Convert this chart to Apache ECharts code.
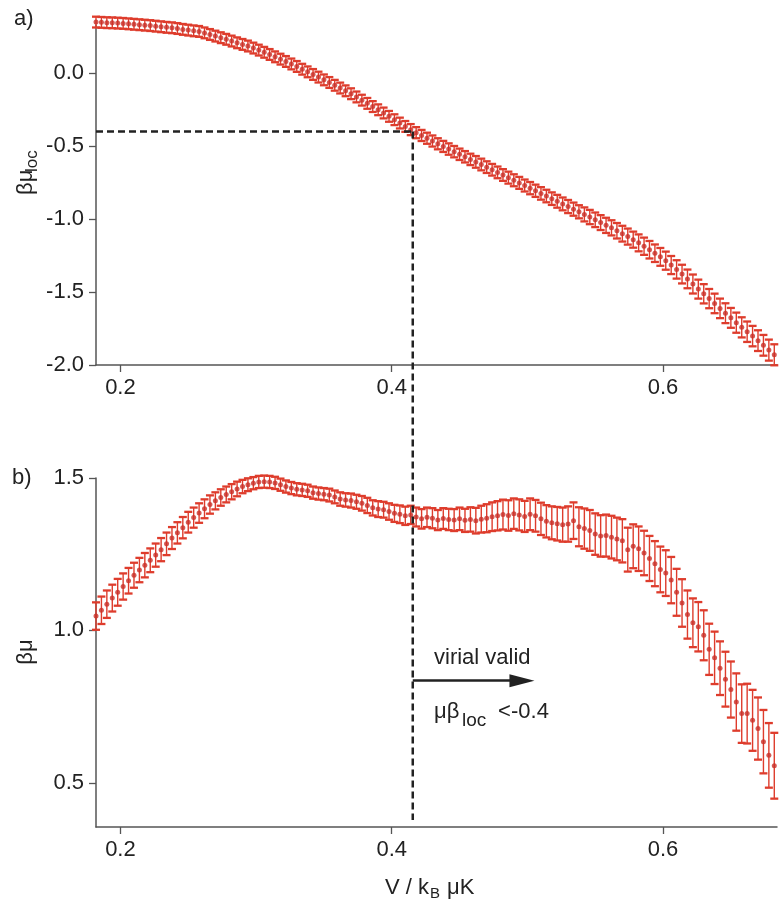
<!DOCTYPE html>
<html><head><meta charset="utf-8">
<script src="https://cdn.jsdelivr.net/npm/echarts@6/dist/echarts.min.js"></script>
<style>html,body{margin:0;padding:0;background:#fff}#c{width:782px;height:911px}</style>
</head><body><div id="c"></div><script>
// x positions (V / kB uK)
const xs = [
0.182,0.186,0.190,0.194,0.198,0.202,0.206,0.210,0.214,0.218,
0.222,0.226,0.230,0.234,0.238,0.242,0.246,0.250,0.254,0.258,
0.262,0.266,0.270,0.274,0.278,0.282,0.286,0.290,0.294,0.298,
0.302,0.306,0.310,0.314,0.318,0.322,0.326,0.330,0.334,0.338,
0.342,0.346,0.350,0.354,0.358,0.362,0.366,0.370,0.374,0.378,
0.382,0.386,0.390,0.394,0.398,0.402,0.406,0.410,0.414,0.418,
0.422,0.426,0.430,0.434,0.438,0.442,0.446,0.450,0.454,0.458,
0.462,0.466,0.470,0.474,0.478,0.482,0.486,0.490,0.494,0.498,
0.502,0.506,0.510,0.514,0.518,0.522,0.526,0.530,0.534,0.538,
0.542,0.546,0.550,0.554,0.558,0.562,0.566,0.570,0.574,0.578,
0.582,0.586,0.590,0.594,0.598,0.602,0.606,0.610,0.614,0.618,
0.622,0.626,0.630,0.634,0.638,0.642,0.646,0.650,0.654,0.658,
0.662,0.666,0.670,0.674,0.678,0.682];
// panel a) beta*mu_loc
const topY = [
0.350,0.348,0.346,0.345,0.343,0.341,0.338,0.335,0.332,0.329,
0.326,0.322,0.318,0.314,0.311,0.306,0.300,0.295,0.290,0.286,
0.276,0.265,0.254,0.243,0.232,0.220,0.208,0.197,0.186,0.172,
0.158,0.143,0.128,0.112,0.096,0.080,0.063,0.046,0.027,0.009,
-0.009,-0.027,-0.046,-0.064,-0.083,-0.102,-0.121,-0.141,-0.163,-0.185,
-0.207,-0.229,-0.251,-0.273,-0.296,-0.319,-0.342,-0.365,-0.387,-0.408,
-0.427,-0.446,-0.465,-0.484,-0.502,-0.520,-0.538,-0.556,-0.573,-0.591,
-0.608,-0.626,-0.644,-0.662,-0.680,-0.698,-0.716,-0.734,-0.752,-0.770,
-0.788,-0.806,-0.824,-0.842,-0.860,-0.878,-0.896,-0.914,-0.932,-0.950,
-0.968,-0.986,-1.005,-1.024,-1.043,-1.060,-1.080,-1.100,-1.120,-1.141,
-1.163,-1.186,-1.210,-1.234,-1.259,-1.285,-1.315,-1.345,-1.377,-1.410,
-1.445,-1.480,-1.512,-1.545,-1.578,-1.612,-1.645,-1.677,-1.710,-1.742,
-1.772,-1.802,-1.833,-1.865,-1.898,-1.930];
const topErr = [
0.037,0.037,0.037,0.037,0.037,0.037,0.037,0.037,0.037,0.037,
0.037,0.037,0.037,0.037,0.037,0.037,0.037,0.037,0.037,0.037,
0.037,0.037,0.037,0.037,0.037,0.037,0.037,0.037,0.037,0.037,
0.037,0.037,0.037,0.037,0.037,0.037,0.037,0.037,0.037,0.037,
0.037,0.037,0.037,0.037,0.037,0.037,0.037,0.037,0.037,0.037,
0.037,0.037,0.037,0.037,0.037,0.037,0.037,0.037,0.038,0.038,
0.038,0.038,0.038,0.038,0.038,0.039,0.039,0.039,0.039,0.039,
0.040,0.040,0.040,0.040,0.040,0.040,0.041,0.041,0.041,0.041,
0.042,0.042,0.043,0.043,0.043,0.044,0.044,0.045,0.045,0.045,
0.048,0.049,0.050,0.051,0.052,0.052,0.053,0.054,0.055,0.055,
0.058,0.059,0.060,0.060,0.061,0.062,0.062,0.063,0.064,0.064,
0.065,0.065,0.066,0.066,0.067,0.067,0.068,0.068,0.069,0.069,
0.070,0.070,0.071,0.071,0.072,0.072];
// panel b) beta*mu
const botY = [
1.047,1.066,1.086,1.106,1.125,1.144,1.163,1.181,1.198,1.214,
1.230,1.247,1.265,1.284,1.303,1.320,1.337,1.355,1.370,1.385,
1.399,1.413,1.425,1.436,1.446,1.455,1.464,1.472,1.478,1.483,
1.487,1.488,1.487,1.484,1.478,1.472,1.467,1.463,1.461,1.458,
1.452,1.449,1.447,1.444,1.438,1.431,1.428,1.426,1.422,1.417,
1.410,1.402,1.398,1.396,1.390,1.384,1.381,1.376,1.379,1.372,
1.366,1.371,1.368,1.362,1.367,1.364,1.362,1.366,1.361,1.364,
1.360,1.365,1.368,1.373,1.376,1.380,1.377,1.383,1.379,1.374,
1.381,1.376,1.366,1.358,1.353,1.350,1.347,1.349,1.360,1.340,
1.334,1.328,1.316,1.310,1.311,1.306,1.300,1.294,1.265,1.276,
1.268,1.254,1.236,1.219,1.200,1.188,1.165,1.125,1.090,1.052,
1.025,1.012,0.984,0.938,0.910,0.876,0.840,0.806,0.765,0.727,
0.727,0.705,0.678,0.635,0.590,0.556];
const botErr = [
0.045,0.045,0.045,0.044,0.044,0.043,0.042,0.041,0.040,0.040,
0.039,0.038,0.038,0.037,0.036,0.035,0.035,0.034,0.033,0.032,
0.031,0.030,0.028,0.027,0.026,0.025,0.024,0.022,0.021,0.020,
0.020,0.020,0.020,0.020,0.020,0.020,0.020,0.020,0.020,0.020,
0.020,0.020,0.020,0.021,0.021,0.022,0.022,0.023,0.023,0.024,
0.025,0.025,0.026,0.026,0.027,0.028,0.029,0.030,0.030,0.031,
0.032,0.032,0.033,0.033,0.034,0.035,0.036,0.037,0.038,0.040,
0.042,0.044,0.046,0.047,0.048,0.049,0.050,0.050,0.051,0.051,
0.052,0.052,0.053,0.053,0.054,0.055,0.056,0.058,0.060,0.064,
0.066,0.067,0.068,0.068,0.069,0.070,0.070,0.071,0.072,0.072,
0.073,0.073,0.074,0.074,0.075,0.075,0.076,0.077,0.078,0.079,
0.080,0.081,0.082,0.084,0.086,0.088,0.090,0.092,0.094,0.096,
0.098,0.100,0.102,0.104,0.106,0.108];
const xTicks = [0.2, 0.4, 0.6];
const topTicks = [-2.0, -1.5, -1.0, -0.5, 0.0];
const botTicks = [0.5, 1.0, 1.5];
const threshold = -0.4;      // beta mu_loc threshold
const crossX = 0.4155;       // V where beta mu_loc = -0.4
const arrowY = 0.835;        // arrow height in panel b
const arrowEndX = 0.496;

const RED = '#de3c2c', DOT = '#c92f28', INK = '#222', AX = '#555';
const FONT = 'Liberation Sans, Arial, Helvetica, sans-serif';

const topData = xs.map((x, i) => [x, topY[i], topErr[i]]);
const botData = xs.map((x, i) => [x, botY[i], botErr[i]]);

function errItem(params, api) {
  const x = api.value(0), y = api.value(1), e = api.value(2);
  const c = api.coord([x, y]), t = api.coord([x, y + e]), b = api.coord([x, y - e]);
  const hw = 4;
  return { type: 'group', children: [
    { type: 'line', shape: { x1: c[0], y1: t[1], x2: c[0], y2: b[1] }, style: { stroke: RED, lineWidth: 1.4 } },
    { type: 'line', shape: { x1: c[0] - hw, y1: t[1], x2: c[0] + hw, y2: t[1] }, style: { stroke: RED, lineWidth: 2.3 } },
    { type: 'line', shape: { x1: c[0] - hw, y1: b[1], x2: c[0] + hw, y2: b[1] }, style: { stroke: RED, lineWidth: 2.3 } }
  ]};
}

function xAxisCfg(gi) {
  return {
    type: 'value', gridIndex: gi, min: 0.182, max: 0.684,
    axisLine: { show: true, onZero: false, lineStyle: { color: AX, width: 1.5 } },
    axisTick: { show: true, customValues: xTicks, length: 7, lineStyle: { color: AX, width: 1.3 } },
    axisLabel: { customValues: xTicks, formatter: v => v.toFixed(1), fontSize: 22, color: INK, fontFamily: FONT, margin: 12 },
    splitLine: { show: false }
  };
}
function yAxisCfg(gi, min, max, ticks) {
  return {
    type: 'value', gridIndex: gi, min: min, max: max,
    axisLine: { show: true, onZero: false, lineStyle: { color: AX, width: 1.5 } },
    axisTick: { show: true, customValues: ticks, length: 7, lineStyle: { color: AX, width: 1.3 } },
    axisLabel: { customValues: ticks, formatter: v => v.toFixed(1), fontSize: 22, color: INK, fontFamily: FONT, margin: 12 },
    splitLine: { show: false }
  };
}

const chart = echarts.init(document.getElementById('c'), null, { renderer: 'canvas' });
const txt = (id, x, y, text, size, align, extra) => Object.assign({
  type: 'text', id: id, x: x, y: y,
  style: { text: text, fontSize: size, fill: INK, fontFamily: FONT, align: align || 'left', verticalAlign: 'middle' }
}, extra || {});

chart.setOption({
  animation: false,
  grid: [
    { left: 96, right: 5, top: 25, height: 340 },
    { left: 96, right: 5, top: 478, height: 349 }
  ],
  xAxis: [xAxisCfg(0), xAxisCfg(1)],
  yAxis: [yAxisCfg(0, -2.0, 0.33, topTicks), yAxisCfg(1, 0.355, 1.5, botTicks)],
  series: [
    { type: 'custom', xAxisIndex: 0, yAxisIndex: 0, data: topData, renderItem: errItem, clip: false, silent: true },
    { type: 'scatter', xAxisIndex: 0, yAxisIndex: 0, data: topData, symbolSize: 5, itemStyle: { color: DOT }, silent: true, clip: false,
      markLine: { silent: true, symbol: ['none', 'none'], label: { show: false },
        lineStyle: { color: INK, width: 2.5, type: [7, 4] },
        data: [[{ coord: [0.182, threshold] }, { coord: [crossX, threshold] }]] } },
    { type: 'custom', xAxisIndex: 1, yAxisIndex: 1, data: botData, renderItem: errItem, clip: false, silent: true },
    { type: 'scatter', xAxisIndex: 1, yAxisIndex: 1, data: botData, symbolSize: 5, itemStyle: { color: DOT }, silent: true,
      markLine: { silent: true, symbol: ['none', 'triangle'], symbolSize: [13, 25], label: { show: false },
        lineStyle: { color: INK, width: 2.6, type: 'solid' },
        data: [[{ coord: [crossX, arrowY] }, { coord: [arrowEndX, arrowY] }]] } }
  ],
  graphic: [
    txt('ga', 14, 19, 'a)', 22),
    txt('gb', 12, 478, 'b)', 22),
    { type: 'group', id: 'ny1', x: 26, y: 171, rotation: Math.PI / 2, children: [
      txt('ny1a', -24, 0, 'βμ', 22),
      txt('ny1b', -1, 6, 'loc', 17)
    ]},
    { type: 'text', id: 'ny2', x: 26, y: 652, rotation: Math.PI / 2,
      style: { text: 'βμ', fontSize: 22, fill: INK, fontFamily: FONT, align: 'center', verticalAlign: 'middle' } },
    txt('nx1', 385, 888, 'V / k', 22),
    txt('nx2', 430, 894, 'B', 15),
    txt('nx3', 441, 888, ' μK', 22),
    txt('an1', 434, 658, 'virial valid', 22),
    txt('an2', 434, 712, 'μβ', 22),
    txt('an3', 462, 721, 'loc', 19),
    txt('an4', 492, 712, ' <-0.4', 22)
  ]
});

const p1 = chart.convertToPixel({ gridIndex: 0 }, [crossX, threshold]);
const p2 = chart.convertToPixel({ gridIndex: 1 }, [crossX, 0.378]);
chart.setOption({ graphic: [{ type: 'line', id: 'vdash', shape: { x1: p1[0], y1: p1[1], x2: p2[0], y2: p2[1] },
  style: { stroke: INK, lineWidth: 2.5, lineDash: [7, 4] }, z: 10 }] });
</script></body></html>
